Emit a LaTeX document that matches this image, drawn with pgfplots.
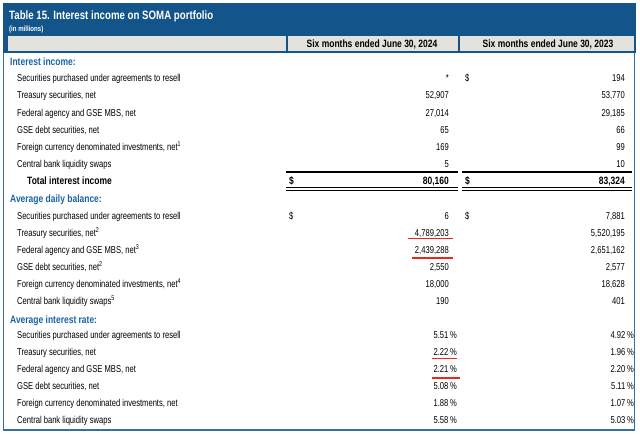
\documentclass[border=0pt]{standalone}
\usepackage{pgfplots}
\pgfplotsset{compat=1.18}
\usepackage{pgfplotstable}
\usepackage{fontspec}
\setmainfont{Liberation Sans}[FakeStretch=0.8]
\newfontfamily\narrowfont{Liberation Sans}[FakeStretch=0.76]
\definecolor{hdrblue}{HTML}{13548A}
\definecolor{secblue}{HTML}{1B63A6}
\definecolor{cellgray}{HTML}{E4E2DD}
\definecolor{ulred}{HTML}{E8281E}
\newcommand\rf{\narrowfont\fontsize{10}{11.5}\selectfont}
\newcommand\hf{\fontsize{10.6}{12}\selectfont\bfseries}
\newcommand\tbf{\fontsize{10.6}{12}\selectfont\bfseries}

% regular values: x = right edge, y = row centre
\pgfplotstableread{
x y v
449 78 *
449 95 52,907
449 113 27,014
449 130 65
449 147 169
449 164 5
625 78 194
625 95 53,770
625 113 29,185
625 130 66
625 147 99
625 164 10
449 216 6
449 233 4,789,203
449 250 2,439,288
449 267 2,550
449 284 18,000
449 301 190
625 216 7,881
625 233 5,520,195
625 250 2,651,162
625 267 2,577
625 284 18,628
625 301 401
}\vals
\pgfplotstableread{
x y v
449 181 80,160
625 181 83,324
}\totals
\pgfplotstableread{
x y v
457 335 5.51
457 352 2.22
457 369 2.21
457 386 5.08
457 403 1.88
457 420 5.58
634 335 4.92
634 352 1.96
634 369 2.20
634 386 5.11
634 403 1.07
634 420 5.03
}\rates

\newcommand\lab[2]{\node[anchor=base west,inner sep=0pt,font=\rf,yshift=-3.6pt] at (axis cs:17,#1) {#2};}
\newcommand\sechead[2]{\node[anchor=base west,inner sep=0pt,font=\hf,text=secblue,yshift=-3.8pt] at (axis cs:10,#1) {#2};}
\newcommand\dol[2]{\node[anchor=base west,inner sep=0pt,font=\rf,yshift=-3.6pt] at (axis cs:#1,#2) {\$};}

\begin{document}
\begin{tikzpicture}
\begin{axis}[width=640pt,height=434pt,scale only axis,
  xmin=0,xmax=640,ymin=0,ymax=434,y dir=reverse,
  hide axis,clip=false,
  nodes near coords style={anchor=base east,inner sep=0pt,font=\rf,yshift=-3.6pt,text=black}]
\fill[white] (axis cs:0,0) rectangle (axis cs:640,434);
% header band
\fill[hdrblue] (axis cs:3,3) rectangle (axis cs:636,53);
\fill[cellgray] (axis cs:8,35.5) rectangle (axis cs:286.2,50.5);
\fill[cellgray] (axis cs:288.2,35.5) rectangle (axis cs:458.3,50.5);
\fill[cellgray] (axis cs:460.3,35.5) rectangle (axis cs:633.5,50.5);
\node[anchor=base west,inner sep=0pt,text=white,font=\fontsize{12.1}{14}\selectfont\bfseries] at (axis cs:9,19.5) {Table 15. Interest income on SOMA portfolio};
\node[anchor=base west,inner sep=0pt,text=white,font=\fontsize{7.6}{9}\selectfont\bfseries] at (axis cs:9,31.5) {(in millions)};
\node[anchor=base,inner sep=0pt,font=\fontsize{10.6}{12}\selectfont\bfseries] at (axis cs:372,47) {Six months ended June 30, 2024};
\node[anchor=base,inner sep=0pt,font=\fontsize{10.6}{12}\selectfont\bfseries] at (axis cs:548,47) {Six months ended June 30, 2023};
% body border
\draw[hdrblue!85!white,line width=1.3pt] (axis cs:3.7,53) -- (axis cs:3.7,430) -- (axis cs:634.8,430) -- (axis cs:634.8,53);
% section headers and labels
\sechead{62}{Interest income:}
\lab{78}{Securities purchased under agreements to resell}
\lab{95}{Treasury securities, net}
\lab{113}{Federal agency and GSE MBS, net}
\lab{130}{GSE debt securities, net}
\lab{147}{Foreign currency denominated investments, net\textsuperscript{1}}
\lab{164}{Central bank liquidity swaps}
\node[anchor=base west,inner sep=0pt,font=\tbf,yshift=-3.8pt] at (axis cs:27,181) {Total interest income};
\sechead{199}{Average daily balance:}
\lab{216}{Securities purchased under agreements to resell}
\lab{233}{Treasury securities, net\textsuperscript{2}}
\lab{250}{Federal agency and GSE MBS, net\textsuperscript{3}}
\lab{267}{GSE debt securities, net\textsuperscript{2}}
\lab{284}{Foreign currency denominated investments, net\textsuperscript{4}}
\lab{301}{Central bank liquidity swaps\textsuperscript{5}}
\sechead{320}{Average interest rate:}
\lab{335}{Securities purchased under agreements to resell}
\lab{352}{Treasury securities, net}
\lab{369}{Federal agency and GSE MBS, net}
\lab{386}{GSE debt securities, net}
\lab{403}{Foreign currency denominated investments, net}
\lab{420}{Central bank liquidity swaps}
% dollar signs
\dol{465}{78}
\node[anchor=base west,inner sep=0pt,font=\tbf,yshift=-3.8pt] at (axis cs:289,181) {\$};
\node[anchor=base west,inner sep=0pt,font=\tbf,yshift=-3.8pt] at (axis cs:465,181) {\$};
\dol{289}{216}
\dol{465}{216}
% total rules
\draw[black,line width=1.2pt] (axis cs:286,172) -- (axis cs:458,172);
\draw[black,line width=1.2pt] (axis cs:462,172) -- (axis cs:632,172);
\draw[black,line width=1.1pt] (axis cs:286,187.6) -- (axis cs:458,187.6);
\draw[black,line width=1.1pt] (axis cs:462,187.6) -- (axis cs:632,187.6);
\draw[black,line width=1.1pt] (axis cs:286,190.2) -- (axis cs:458,190.2);
\draw[black,line width=1.1pt] (axis cs:462,190.2) -- (axis cs:632,190.2);
% values
\addplot[draw=none,mark=none,nodes near coords,point meta=explicit symbolic] table[x=x,y=y,meta=v]{\vals};
\addplot[draw=none,mark=none,nodes near coords,point meta=explicit symbolic,
  nodes near coords style={font=\tbf,yshift=-0.2pt}] table[x=x,y=y,meta=v]{\totals};
\addplot[draw=none,mark=none,nodes near coords={\pgfplotspointmeta\,\%},point meta=explicit symbolic] table[x=x,y=y,meta=v]{\rates};
% red underlines
\addplot[draw=ulred,color=ulred,mark=none,line width=1.4pt] coordinates {(408,238.5) (453,238.5)};
\addplot[draw=ulred,color=ulred,mark=none,line width=1.4pt] coordinates {(412,258) (453,258)};
\addplot[draw=ulred,color=ulred,mark=none,line width=1.4pt] coordinates {(432,358.5) (457,358.5)};
\addplot[draw=ulred,color=ulred,mark=none,line width=1.4pt] coordinates {(432,378) (460,378)};
\end{axis}
\end{tikzpicture}
\end{document}
